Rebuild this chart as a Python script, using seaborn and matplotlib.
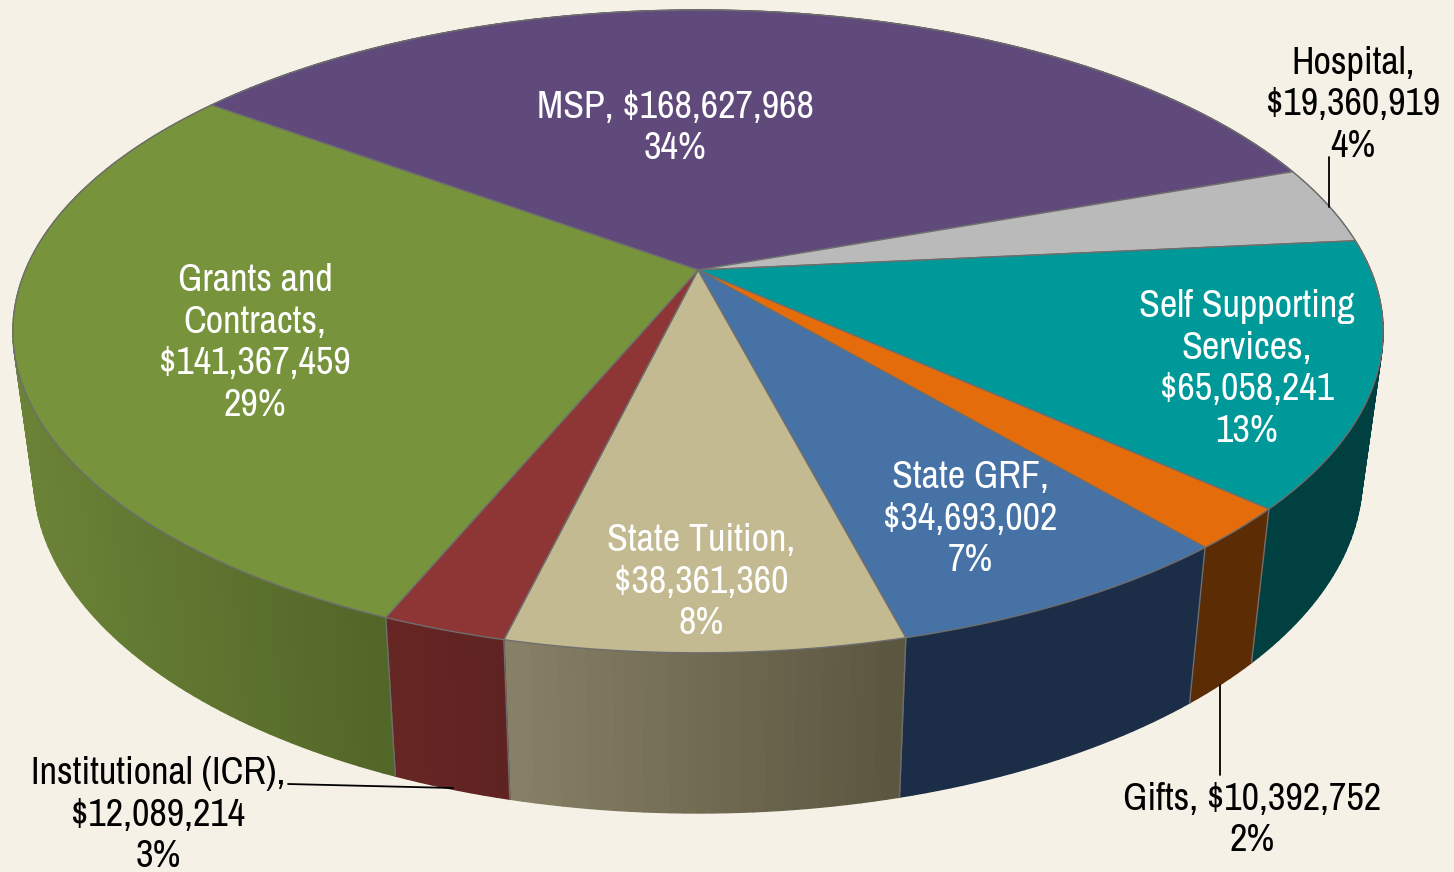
import numpy as np
import matplotlib
matplotlib.use("Agg")
import matplotlib.pyplot as plt
from matplotlib import font_manager as fm
from matplotlib.colors import to_rgb
from matplotlib.transforms import Transform
import seaborn as sns

# --- Data ---
CATEGORIES = ["MSP", "Hospital", "Self Supporting\nServices", "Gifts", "State GRF",
              "State Tuition", "Institutional (ICR)", "Grants and\nContracts"]
AMOUNTS = [168627968, 19360919, 65058241, 10392752, 34693002, 38361360, 12089214, 141367459]
PERCENTS = [34, 4, 13, 2, 7, 8, 3, 29]

# --- Style ---
BACKGROUND = "#F5F1E6"
EDGE = "#6E6E6E"
TOP_COLORS = ["#604A7B", "#BABABA", "#009999", "#E46C0A", "#4672A6", "#C3BA92", "#8E3535", "#77933C"]
SIDE_LEFT = ["#3A2C4A", "#707070", "#004040", "#5C2C04", "#1C2E47", "#888167", "#662624", "#6B8337"]
SIDE_RIGHT = ["#3A2C4A", "#707070", "#004040", "#5C2C04", "#1C2E47", "#5A553F", "#5F2321", "#526628"]
LABEL_SEPS = [", ", ",\n", ",\n", ", ", ",\n", ",\n", ",\n", ",\n"]
LABEL_XY = [(675, 128), (1353, 105), (1247, 369), (1252, 820),
            (970, 519), (701, 582), (158, 815), (255, 343)]
LABEL_COLORS = ["white", "black", "white", "black", "white", "white", "black", "white"]

# --- Pie projection (unit circle to picture pixels) ---
START_ANGLE = 143.65
TILT = 0.191
TOP_PLANE = dict(x0=698, y0=270, a=672.5, b=309.7)
BOTTOM_PLANE = dict(x0=698, y0=412.5, a=652, b=324)


def project(u, v, plane):
    w = 1 + TILT * v
    return plane["x0"] + plane["a"] * u / w, plane["y0"] - plane["b"] * v / w


class PlaneTransform(Transform):
    input_dims = 2
    output_dims = 2
    is_separable = False
    has_inverse = False

    def __init__(self, plane):
        super().__init__()
        self.plane = plane

    def transform_non_affine(self, values):
        x, y = project(values[:, 0], values[:, 1], self.plane)
        return np.column_stack([x, y])


sns.set_theme(style="white")
plt.rcParams["font.family"] = ["Archivo Narrow", "Roboto", "DejaVu Sans"]
# Roboto is wider, so it needs a smaller size if the narrow face is missing
has_narrow = "Archivo Narrow" in {f.name for f in fm.fontManager.ttflist}
FONT_SIZE = 27.5 if has_narrow else 24
LINE_SPACING = 1.24 if has_narrow else 1.35

fig = plt.figure(figsize=(14.54, 8.72), dpi=100, facecolor=BACKGROUND)
ax = fig.add_axes([0, 0, 1, 1])

wedges, _ = ax.pie(
    AMOUNTS,
    colors=sns.color_palette(TOP_COLORS),
    startangle=START_ANGLE,
    counterclock=False,
    wedgeprops=dict(edgecolor=EDGE, linewidth=1.0),
)
ax.set_aspect("auto")
ax.set_xlim(0, 1454)
ax.set_ylim(872, 0)
ax.axis("off")

top_transform = PlaneTransform(TOP_PLANE) + ax.transData
for wedge in wedges:
    wedge.set_transform(top_transform)
    wedge.set_zorder(3)
    wedge.set_clip_on(False)

# --- Side wall, one thin strip per degree so the shading can run left to right ---
for i, wedge in enumerate(wedges):
    thetas = np.radians(np.linspace(wedge.theta1, wedge.theta2,
                                    int(wedge.theta2 - wedge.theta1) + 2))
    u, v = np.cos(thetas), np.sin(thetas)
    top_x, top_y = project(u, v, TOP_PLANE)
    bot_x, bot_y = project(u, v, BOTTOM_PLANE)
    left, right = np.array(to_rgb(SIDE_LEFT[i])), np.array(to_rgb(SIDE_RIGHT[i]))
    x_min, x_max = bot_x.min(), bot_x.max()
    for j in range(len(thetas) - 1):
        mix = ((bot_x[j] + bot_x[j + 1]) / 2 - x_min) / (x_max - x_min)
        color = left + (right - left) * mix
        ax.fill([top_x[j], top_x[j + 1], bot_x[j + 1], bot_x[j]],
                [top_y[j], top_y[j + 1], bot_y[j + 1], bot_y[j]],
                facecolor=color, edgecolor=color, linewidth=1.0, zorder=1)
    # edge between two slices on the wall
    if v[0] < 0.1:
        ax.plot([top_x[0], bot_x[0]], [top_y[0], bot_y[0]],
                color=EDGE, linewidth=1.0, zorder=2)

# --- Leader lines ---
ax.plot([1329, 1329], [157, 207], color="black", linewidth=1.3, zorder=4)
ax.plot([1220, 1220], [685, 775], color="black", linewidth=1.3, zorder=4)
ax.plot([288, 453], [784, 788], color="black", linewidth=1.3, zorder=4)

# --- Labels ---
for i, name in enumerate(CATEGORIES):
    label = f"{name}{LABEL_SEPS[i]}${AMOUNTS[i]:,}\n{PERCENTS[i]}%"
    ax.text(LABEL_XY[i][0], LABEL_XY[i][1], label, color=LABEL_COLORS[i],
            fontsize=FONT_SIZE, fontweight="medium", ha="center", va="center",
            multialignment="center", linespacing=LINE_SPACING, zorder=5)

plt.savefig("out.png", dpi=100, facecolor=BACKGROUND)
